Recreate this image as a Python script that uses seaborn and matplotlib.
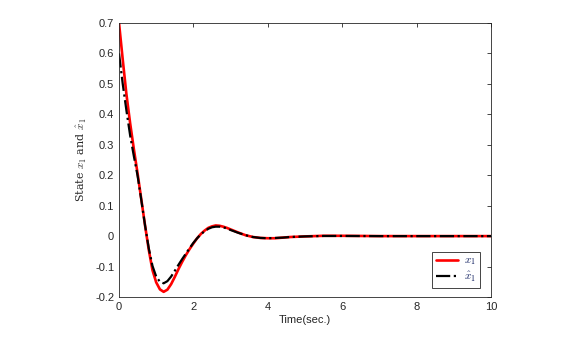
import pandas as pd
import seaborn as sns
import matplotlib.pyplot as plt

# time samples (sec.)
t = [0.0, 0.1, 0.2, 0.3, 0.4, 0.5, 0.6, 0.7, 0.8, 0.9,
     1.0, 1.1, 1.2, 1.3, 1.4, 1.5, 1.6, 1.7, 1.8, 1.9,
     2.0, 2.1, 2.2, 2.3, 2.4, 2.5, 2.6, 2.7, 2.8, 2.9,
     3.0, 3.2, 3.4, 3.6, 3.8, 4.0, 4.2, 4.4, 4.6, 4.8,
     5.0, 5.5, 6.0, 7.0, 8.0, 9.0, 10.0]

# state x1
x1 = [0.700, 0.580, 0.465, 0.370, 0.285, 0.205, 0.120, 0.035, -0.045, -0.112,
      -0.152, -0.175, -0.183, -0.176, -0.158, -0.134, -0.108, -0.084, -0.062, -0.042,
      -0.024, -0.007, 0.007, 0.018, 0.027, 0.032, 0.035, 0.034, 0.031, 0.027,
      0.022, 0.012, 0.003, -0.003, -0.006, -0.007, -0.007, -0.005, -0.003, -0.002,
      -0.001, 0.001, 0.001, 0.0, 0.0, 0.0, 0.0]

# estimate x1 hat
x1_hat = [0.600, 0.500, 0.412, 0.330, 0.262, 0.198, 0.118, 0.035, -0.040, -0.098,
          -0.133, -0.150, -0.155, -0.148, -0.133, -0.114, -0.094, -0.075, -0.057, -0.039,
          -0.022, -0.007, 0.006, 0.016, 0.024, 0.029, 0.031, 0.031, 0.029, 0.025,
          0.020, 0.011, 0.003, -0.003, -0.006, -0.007, -0.006, -0.005, -0.003, -0.002,
          -0.001, 0.0005, 0.0005, 0.0, 0.0, 0.0, 0.0]

df = pd.DataFrame({'t': t, 'x1': x1, 'x1_hat': x1_hat})

sns.set_style('white')
plt.rcParams['font.family'] = ['Liberation Sans', 'DejaVu Sans']
plt.rcParams['mathtext.fontset'] = 'cm'

fig = plt.figure(figsize=(5.78, 3.37), dpi=100)
ax = fig.add_axes([0.2059, 0.1187, 0.6436, 0.8131])

sns.lineplot(data=df, x='t', y='x1', color='#ff0000', linewidth=1.9, label='$x_1$', ax=ax)
sns.lineplot(data=df, x='t', y='x1_hat', color='black', linewidth=1.6, linestyle='-.',
             label=r'$\hat{x}_1$', ax=ax)

ax.set_xlim(0, 10)
ax.set_ylim(-0.2, 0.7)
ax.set_xticks([0, 2, 4, 6, 8, 10])
ax.set_yticks([-0.2, -0.1, 0, 0.1, 0.2, 0.3, 0.4, 0.5, 0.6, 0.7])
ax.set_yticklabels(['-0.2', '-0.1', '0', '0.1', '0.2', '0.3', '0.4', '0.5', '0.6', '0.7'])

ax.tick_params(direction='in', length=3, width=0.6, colors='#262626', labelsize=8,
               top=True, right=True)
for s in ax.spines.values():
    s.set_color('#262626')
    s.set_linewidth(0.6)

ax.set_xlabel('Time(sec.)', fontsize=8, color='#262626', labelpad=2)
ax.set_ylabel(r'State $x_1$ and $\hat{x}_1$', fontsize=8, color='#262626',
              family='serif', labelpad=4)

leg = ax.legend(loc='lower right', bbox_to_anchor=(0.985, 0.012), fontsize=8,
                frameon=True, fancybox=False, edgecolor='#262626', framealpha=1,
                handlelength=2.0, borderpad=0.35, labelspacing=0.25, handletextpad=0.5)
leg.get_frame().set_linewidth(0.6)
for txt in leg.get_texts():
    txt.set_color('#0a1a5c')

plt.savefig('out.png', dpi=100)
